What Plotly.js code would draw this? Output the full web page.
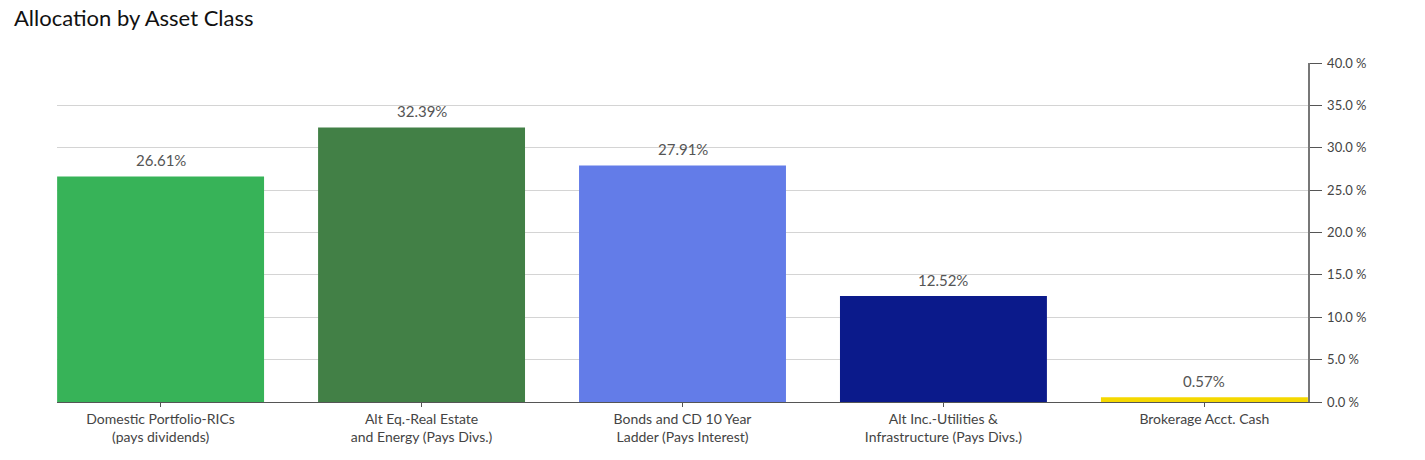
<!DOCTYPE html>
<html><head><meta charset="utf-8">
<script src="https://cdn.plot.ly/plotly-3.0.1.min.js"></script>
<style>html,body{margin:0;padding:0;background:#fff}#chart{width:1425px;height:460px}</style>
</head><body><div id="chart"></div>
<script>
const categories = ["Domestic Portfolio-RICs<br>(pays dividends)", "Alt Eq.-Real Estate<br>and Energy (Pays Divs.)", "Bonds and CD 10 Year<br>Ladder (Pays Interest)", "Alt Inc.-Utilities &<br>Infrastructure (Pays Divs.)", "Brokerage Acct. Cash"];
const values = [26.61, 32.39, 27.91, 12.52, 0.57];
const valueLabels = ["26.61%", "32.39%", "27.91%", "12.52%", "0.57%"];
const colors = ["#37b358", "#428046", "#637ce8", "#0b1a8b", "#f5d800"];
const yTicks = [0, 5, 10, 15, 20, 25, 30, 35, 40];
const yTickLabels = ["0.0 %", "5.0 %", "10.0 %", "15.0 %", "20.0 %", "25.0 %", "30.0 %", "35.0 %", "40.0 %"];

const trace = {
  type: "bar", x: categories, y: values,
  marker: {color: colors, line: {width: 0}},
  hoverinfo: "none"
};
const annotations = categories.map((c, i) => ({
  x: c, y: values[i], xref: "x", yref: "y", text: valueLabels[i],
  showarrow: false, yanchor: "bottom", yshift: 5,
  font: {family: "Lato, sans-serif", size: 15, color: "#555"}
}));
const layout = {
  width: 1425, height: 460,
  margin: {l: 57, r: 117, t: 63, b: 58},
  paper_bgcolor: "#fff", plot_bgcolor: "#fff",
  title: {text: "Allocation by Asset Class", x: 14/1425, xanchor: "left", xref: "container", y: 1 - 11/460, yanchor: "top", yref: "container",
    font: {family: "Lato, sans-serif", size: 22, color: "#111"}},
  bargap: 0.207,
  showlegend: false,
  xaxis: {range: [-0.397, 4.397], showgrid: false, showline: true, linecolor: "#555", linewidth: 1,
    ticks: "outside", ticklen: 4, tickcolor: "#555",
    tickfont: {family: "Lato, sans-serif", size: 14, color: "#444"}, fixedrange: true},
  yaxis: {side: "right", range: [0, 40], tickmode: "array", tickvals: yTicks, ticktext: yTickLabels,
    showgrid: true, gridcolor: "#d4d4d4", gridwidth: 1, zeroline: false,
    showline: true, linecolor: "#777", linewidth: 1.5,
    ticks: "outside", ticklen: 12, tickcolor: "#555", ticklabelstandoff: 3,
    tickfont: {family: "Lato, sans-serif", size: 13, color: "#444"}, fixedrange: true},
  annotations: annotations
};
Plotly.newPlot("chart", [trace], layout, {displayModeBar: false, staticPlot: true});
</script></body></html>
